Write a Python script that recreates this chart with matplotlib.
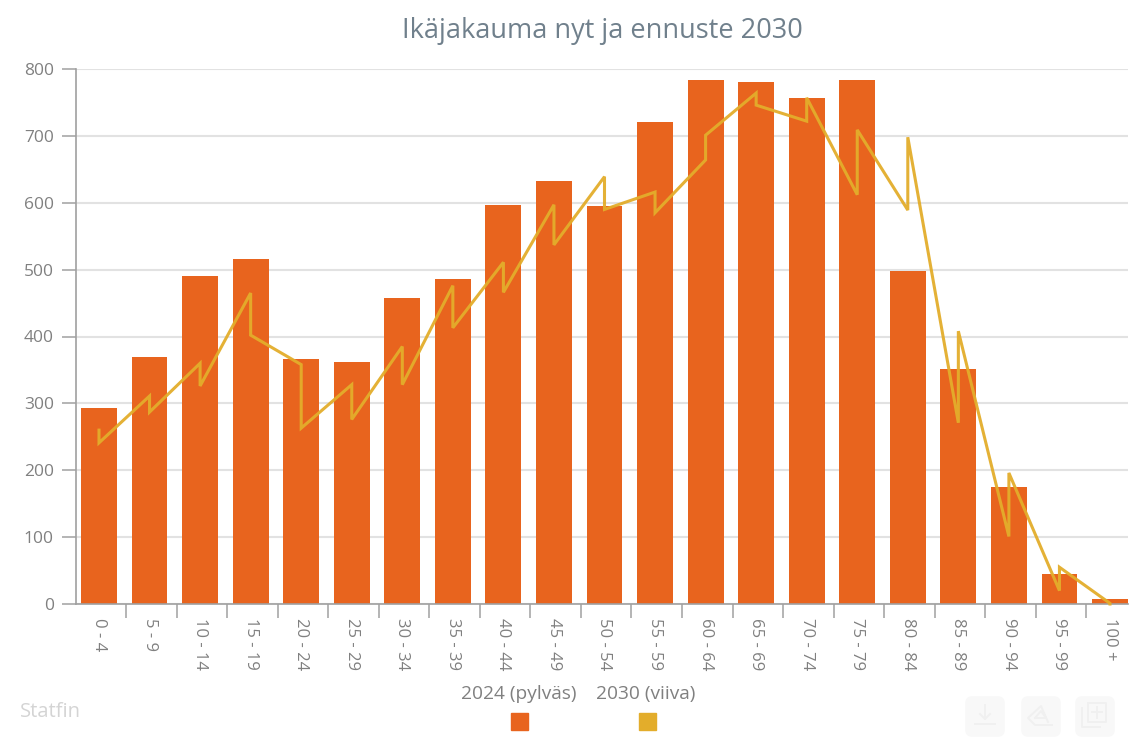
#!/usr/bin/env python

import numpy as np
import matplotlib
matplotlib.use('Agg')
import matplotlib.pyplot as plt
from matplotlib.patches import FancyBboxPatch, Rectangle
from matplotlib.lines import Line2D

W, H = 1130, 742
BAR_COLOR = '#e8641e'
LINE_COLOR = '#e3ad2b'
ICON_COLOR = '#f0f0f0'

ages = ['0 - 4', '5 - 9', '10 - 14', '15 - 19', '20 - 24', '25 - 29', '30 - 34',
        '35 - 39', '40 - 44', '45 - 49', '50 - 54', '55 - 59', '60 - 64', '65 - 69',
        '70 - 74', '75 - 79', '80 - 84', '85 - 89', '90 - 94', '95 - 99', '100 +']
values_2024 = [293, 370, 491, 516, 367, 362, 458, 486, 597, 632, 595,
               721, 783, 781, 756, 783, 498, 352, 175, 45, 7]
# the 2030 line has two points on every category
line_2030_in = [260, 311, 360, 465, 358, 328, 385, 476, 511, 597, 639,
                616, 664, 764, 722, 612, 589, 271, 101, 20, 1]
line_2030_out = [241, 287, 326, 402, 263, 276, 328, 413, 466, 537, 590,
                 585, 701, 746, 757, 709, 698, 408, 196, 55, 0]
legend_labels = ['2024 (pylväs)', '2030 (viiva)']


def fx(px):
    return px / W


def fy(py):
    return 1 - py / H


def icon_line(xs, ys):
    fig.add_artist(Line2D([fx(v) for v in xs], [fy(v) for v in ys], color=ICON_COLOR,
                          lw=1.4, transform=fig.transFigure))


plt.rcParams['font.family'] = ['Open Sans', 'DejaVu Sans']

fig = plt.figure(figsize=(W / 100, H / 100), dpi=100)
left, right, top, bottom = 76, 1128, 69, 604
ax = fig.add_axes([fx(left), fy(bottom), (right - left) / W, (bottom - top) / H])

x = np.arange(len(ages))
ax.bar(x, values_2024, width=0.71, color=BAR_COLOR, zorder=2)

line_x = np.repeat(x, 2)
line_y = np.column_stack([line_2030_in, line_2030_out]).ravel()
ax.plot(line_x, line_y, color=LINE_COLOR, lw=2.2, alpha=0.95, zorder=3,
        solid_joinstyle='miter', clip_on=False)

ax.set_xlim((left - 99) / 50.55, (right - 99) / 50.55)
ax.set_ylim(0, 800)
ax.set_yticks(range(0, 900, 100))
ax.tick_params(axis='y', length=10, width=1.1, color='#a0a0a0', labelcolor='#808080',
               labelsize=12.5, pad=6)
ax.yaxis.grid(True, color='#e2e2e2', lw=1.5, zorder=0)
ax.set_axisbelow(True)

# ticks between the categories, labels under the bars
ax.set_xticks(x[:-1] + 0.534)
ax.set_xticklabels([])
ax.set_xticks(x, labels=ages, minor=True)
ax.tick_params(axis='x', which='major', length=10, width=1.1, color='#a0a0a0')
ax.tick_params(axis='x', which='minor', length=0, labelcolor='#808080', labelsize=12,
               labelrotation=-90, pad=10)

for side in ['top', 'right']:
    ax.spines[side].set_visible(False)
for side in ['left', 'bottom']:
    ax.spines[side].set_color('#a0a0a0')
    ax.spines[side].set_linewidth(1.2)

fig.text(fx(602), fy(31), 'Ikäjakauma nyt ja ennuste 2030', ha='center', va='center',
         fontsize=19.5, color='#70808c')

fig.text(fx(519), fy(694), legend_labels[0], ha='center', va='center', fontsize=13.8,
         color='#808080')
fig.text(fx(646), fy(694), legend_labels[1], ha='center', va='center', fontsize=13.8,
         color='#808080')
for px, col in [(511, BAR_COLOR), (639, LINE_COLOR)]:
    fig.add_artist(Rectangle((fx(px), fy(730)), 17 / W, 17 / H, color=col,
                             transform=fig.transFigure))

fig.text(fx(20), fy(712), 'Statfin', ha='left', va='center', fontsize=14.5,
         color='#d4d4d4')

# faint export buttons bottom right, pixel coords counted from the bottom
for px in [965, 1021, 1075]:
    fig.add_artist(FancyBboxPatch((px + 3, H - 734), 34, 35,
                                  boxstyle='round,pad=0,rounding_size=4',
                                  fc='#f8f8f8', ec='#f8f8f8', lw=4, transform=None))

icon_line([985, 985], [705, 719])
icon_line([980, 985, 990], [714, 719, 714])
icon_line([975, 995], [724, 724])
icon_line([1048, 1041, 1028, 1035, 1052], [722, 706, 718, 725, 725])
icon_line([1035, 1041, 1046, 1035], [718, 711, 718, 718])
icon_line([1088, 1106, 1106, 1088, 1088], [703, 703, 722, 722, 703])
icon_line([1082, 1082, 1100], [708, 727, 727])
icon_line([1097, 1097], [707, 718])
icon_line([1092, 1102], [712, 712])

fig.savefig('out.png', dpi=100)
